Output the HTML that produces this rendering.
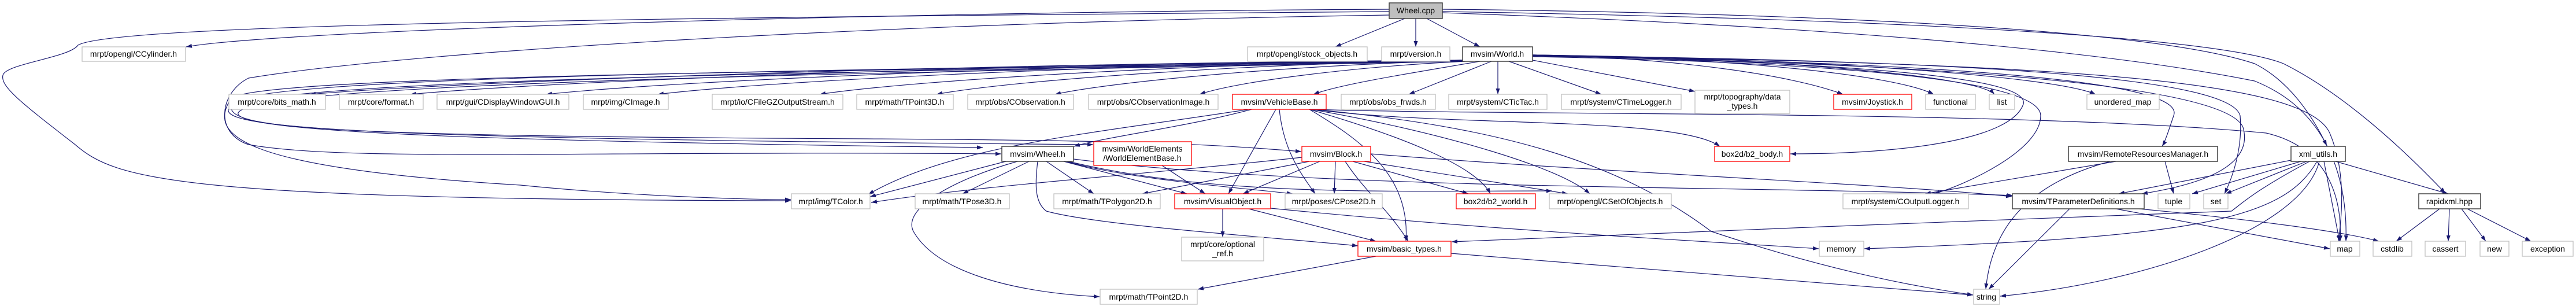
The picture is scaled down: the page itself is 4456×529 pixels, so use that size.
<!DOCTYPE html>
<html><head><meta charset="utf-8"><style>
html,body{margin:0;padding:0;background:#fff;}
svg{display:block;}
text{font-family:"Liberation Sans",sans-serif;font-size:14px;fill:#000;text-anchor:middle;}
.e{fill:none;stroke:#191970;stroke-width:1.2;marker-end:url(#a);}
.g{fill:#fff;stroke:#bfbfbf;stroke-width:1.3;}
.r{fill:#fff;stroke:#ff0000;stroke-width:1.3;}
.k{fill:#fff;stroke:#404040;stroke-width:1.5;}
</style></head><body>
<svg width="4456" height="529" viewBox="0 0 4456 529" xmlns="http://www.w3.org/2000/svg">
<defs><marker id="a" viewBox="0 0 10 7" refX="10" refY="3.5" markerWidth="10" markerHeight="7" markerUnits="userSpaceOnUse" orient="auto"><path d="M0,0 L10,3.5 L0,7 z" fill="#191970"/></marker></defs>
<g>
<!-- Wheel.cpp -->
<path class="e" d="M2430,32 L2310,81"/>
<path class="e" d="M2449,32 L2449,81"/>
<path class="e" d="M2468,32 L2560,81"/>
<path class="e" d="M2403,16 C1600,20 500,50 322,81"/>
<path class="e" d="M2403,20 C1200,30 200,40 135,78 C120,100 10,110 5,130 C0,150 40,180 130,250 C200,310 300,345 1368,347"/>
<path class="e" d="M2403,26 C1500,40 700,90 430,135 C380,160 370,230 430,250 C600,280 1000,260 1732,266"/>
<path class="e" d="M2495,16 C3300,25 3750,60 3900,110 C3960,140 4000,200 4025,252"/>
<path class="e" d="M2495,20 C3400,35 3850,70 3950,110 C4050,160 4150,250 4230,334"/>
<path class="e" d="M2495,22 C3300,50 3700,100 3900,140 C4050,200 4060,350 4058,417"/>
<!-- World.h -->
<path class="e" d="M2530,104 C1732,109 835,138 536,163"/>
<path class="e" d="M2530,104 C1802,109 983,138 710,163"/>
<path class="e" d="M2530,104 C1896,109 1183,138 945,163"/>
<path class="e" d="M2530,104 C1973,109 1347,138 1138,163"/>
<path class="e" d="M2530,104 C2085,109 1585,138 1418,163"/>
<path class="e" d="M2530,104 C2166,110 1756,138 1620,163"/>
<path class="e" d="M2530,105 C2248,112 1931,140 1825,163"/>
<path class="e" d="M2535,106 C2348,115 2143,140 2075,163"/>
<path class="e" d="M2560,106 C2450,125 2320,145 2272,163"/>
<path class="e" d="M2580,106 L2437,163"/>
<path class="e" d="M2591,106 L2591,163"/>
<path class="e" d="M2610,106 L2770,163"/>
<path class="e" d="M2651,104 L2932,158"/>
<path class="e" d="M2651,95 C2900,100 3100,130 3188,163"/>
<path class="e" d="M2651,95 C3000,100 3280,130 3345,163"/>
<path class="e" d="M2651,95 C3050,100 3420,130 3450,163"/>
<path class="e" d="M2651,95 C3100,100 3550,130 3625,163"/>
<path class="e" d="M2651,96 C3300,110 3510,140 3500,180 C3480,240 3300,266 3097,266"/>
<path class="e" d="M2651,96 C3500,110 3780,150 3760,200 C3750,230 3745,245 3740,253"/>
<path class="e" d="M2651,98 C3300,110 3530,150 3530,200 C3530,260 3400,320 3345,335"/>
<path class="e" d="M2651,97 C3400,110 3850,150 3880,220 C3900,290 3800,320 3705,335"/>
<path class="e" d="M2651,96 C3500,105 3860,140 3875,200 C3880,260 3860,310 3848,335"/>
<path class="e" d="M2651,96 C3600,110 3990,140 4030,230 C4060,300 4050,380 4045,417"/>
<path class="e" d="M2530,106 C1800,120 450,125 400,170 C360,230 400,290 900,320 C1100,340 1300,345 1368,345"/>
<path class="e" d="M2530,105 C1500,120 420,130 400,180 C390,220 500,235 1500,240 C2000,243 2100,250 2251,262"/>
<path class="e" d="M2530,105 C1500,125 420,135 395,190 C390,225 700,240 1891,250"/>
<path class="e" d="M2530,106 C1600,125 440,140 412,195 C400,230 900,245 1700,255"/>
<!-- VehicleBase -->
<path class="e" d="M2165,189 C2050,220 1920,235 1858,253"/>
<path class="e" d="M2160,189 C1900,230 1650,250 1502,336"/>
<path class="e" d="M2207,189 L2125,335"/>
<path class="e" d="M2213,189 C2220,260 2250,300 2275,335"/>
<path class="e" d="M2265,189 C2350,240 2440,300 2432,417"/>
<path class="e" d="M2265,189 C2440,240 2555,290 2578,335"/>
<path class="e" d="M2268,189 C2500,230 2700,290 2750,335"/>
<path class="e" d="M2270,189 C2500,220 2900,200 2975,253"/>
<path class="e" d="M2270,189 C2600,200 3500,190 3920,230 C4050,260 4050,380 4048,417"/>
<path class="e" d="M2270,189 C2600,220 2800,280 2960,400 C3200,480 3350,500 3413,510"/>
<!-- Wheel.h -->
<path class="e" d="M1740,279 L1505,340"/>
<path class="e" d="M1780,279 L1665,335"/>
<path class="e" d="M1810,279 L1892,335"/>
<path class="e" d="M1840,279 L2053,335"/>
<path class="e" d="M1845,279 C1950,310 2150,325 2236,335"/>
<path class="e" d="M1795,279 C1790,320 1790,350 1810,365 C1900,390 2200,410 2349,425"/>
<path class="e" d="M1760,279 C1650,310 1560,360 1580,400 C1620,470 1750,505 1902,513"/>
<path class="e" d="M1848,279 C2100,340 2400,330 2685,330"/>
<path class="e" d="M1857,275 C2300,330 3000,320 3482,338"/>
<!-- WorldElementBase -->
<path class="e" d="M2010,286 L2085,335"/>
<!-- Block -->
<path class="e" d="M2252,272 C2000,300 1700,320 1507,350"/>
<path class="e" d="M2265,279 L1976,335"/>
<path class="e" d="M2283,279 L2150,335"/>
<path class="e" d="M2310,279 L2308,335"/>
<path class="e" d="M2327,279 C2360,330 2400,360 2436,417"/>
<path class="e" d="M2340,279 L2540,335"/>
<path class="e" d="M2360,279 L2712,335"/>
<path class="e" d="M2371,266 C2800,300 3300,320 3480,340"/>
<!-- VisualObject -->
<path class="e" d="M2115,361 L2115,410"/>
<path class="e" d="M2160,361 L2380,417"/>
<path class="e" d="M2198,360 C2600,400 3000,420 3146,430"/>
<!-- basic_types -->
<path class="e" d="M2380,443 L2072,500"/>
<path class="e" d="M2510,438 C2900,470 3300,500 3413,510"/>
<!-- RemoteResourcesManager -->
<path class="e" d="M3660,279 L3330,335"/>
<path class="e" d="M3745,279 L3760,335"/>
<path class="e" d="M3650,279 C3500,320 3445,400 3435,500"/>
<!-- xml_utils -->
<path class="e" d="M3963,277 L3665,335"/>
<path class="e" d="M3980,279 L3792,335"/>
<path class="e" d="M3990,279 L3850,335"/>
<path class="e" d="M4020,279 L4047,417"/>
<path class="e" d="M4040,279 L4235,335"/>
<path class="e" d="M4008,279 C3950,380 3800,410 3225,430"/>
<path class="e" d="M3995,279 C3900,330 3880,350 3860,365 C3500,380 2900,400 2511,418"/>
<path class="e" d="M4012,279 C3980,400 3700,490 3460,512"/>
<!-- TParameterDefinitions -->
<path class="e" d="M3580,361 L3440,500"/>
<path class="e" d="M3660,361 L4030,430"/>
<path class="e" d="M3700,361 C3900,380 4050,400 4115,417"/>
<!-- rapidxml -->
<path class="e" d="M4220,361 L4145,417"/>
<path class="e" d="M4237,361 L4235,417"/>
<path class="e" d="M4258,361 L4300,417"/>
<path class="e" d="M4268,361 L4378,417"/>
</g>
<g>
<rect x="2403" y="5" width="92" height="27" fill="#bfbfbf" stroke="#404040" stroke-width="1.5"/><text x="2449" y="23">Wheel.cpp</text>
<rect class="g" x="142" y="81" width="179" height="25"/><text x="231" y="98">mrpt/opengl/CCylinder.h</text>
<rect class="g" x="2158" y="81" width="207" height="25"/><text x="2261" y="98">mrpt/opengl/stock_objects.h</text>
<rect class="g" x="2390" y="81" width="118" height="25"/><text x="2449" y="98">mrpt/version.h</text>
<rect class="k" x="2530" y="81" width="121" height="25"/><text x="2590" y="98">mvsim/World.h</text>

<rect class="g" x="396" y="163" width="167" height="26"/><text x="479" y="181">mrpt/core/bits_math.h</text>
<rect class="g" x="587" y="163" width="145" height="26"/><text x="659" y="181">mrpt/core/format.h</text>
<rect class="g" x="756" y="163" width="228" height="26"/><text x="870" y="181">mrpt/gui/CDisplayWindowGUI.h</text>
<rect class="g" x="1009" y="163" width="147" height="26"/><text x="1082" y="181">mrpt/img/CImage.h</text>
<rect class="g" x="1232" y="163" width="226" height="26"/><text x="1345" y="181">mrpt/io/CFileGZOutputStream.h</text>
<rect class="g" x="1482" y="163" width="167" height="26"/><text x="1565" y="181">mrpt/math/TPoint3D.h</text>
<rect class="g" x="1674" y="163" width="183" height="26"/><text x="1765" y="181">mrpt/obs/CObservation.h</text>
<rect class="g" x="1883" y="163" width="224" height="26"/><text x="1995" y="181">mrpt/obs/CObservationImage.h</text>
<rect class="r" x="2132" y="163" width="162" height="26"/><text x="2213" y="181">mvsim/VehicleBase.h</text>
<rect class="g" x="2320" y="163" width="163" height="26"/><text x="2401" y="181">mrpt/obs/obs_frwds.h</text>
<rect class="g" x="2506" y="163" width="170" height="26"/><text x="2591" y="181">mrpt/system/CTicTac.h</text>
<rect class="g" x="2701" y="163" width="207" height="26"/><text x="2804" y="181">mrpt/system/CTimeLogger.h</text>
<rect class="g" x="2932" y="156" width="164" height="40"/><text x="3014" y="172">mrpt/topography/data</text><text x="3014" y="188">_types.h</text>
<rect class="r" x="3172" y="163" width="135" height="26"/><text x="3239" y="181">mvsim/Joystick.h</text>
<rect class="g" x="3331" y="163" width="86" height="26"/><text x="3374" y="181">functional</text>
<rect class="g" x="3441" y="163" width="44" height="26"/><text x="3463" y="181">list</text>
<rect class="g" x="3610" y="163" width="125" height="26"/><text x="3672" y="181">unordered_map</text>

<rect class="k" x="1733" y="253" width="124" height="26"/><text x="1795" y="271">mvsim/Wheel.h</text>
<rect class="r" x="1892" y="245" width="169" height="41"/><text x="1976" y="262">mvsim/WorldElements</text><text x="1976" y="278">/WorldElementBase.h</text>
<rect class="r" x="2252" y="253" width="119" height="26"/><text x="2311" y="271">mvsim/Block.h</text>
<rect class="r" x="2966" y="253" width="130" height="26"/><text x="3031" y="271">box2d/b2_body.h</text>
<rect class="k" x="3578" y="253" width="258" height="26"/><text x="3707" y="271">mvsim/RemoteResourcesManager.h</text>
<rect class="k" x="3963" y="253" width="94" height="26"/><text x="4010" y="271">xml_utils.h</text>

<rect class="g" x="1369" y="335" width="136" height="26"/><text x="1437" y="353">mrpt/img/TColor.h</text>
<rect class="g" x="1583" y="335" width="163" height="26"/><text x="1664" y="353">mrpt/math/TPose3D.h</text>
<rect class="g" x="1823" y="335" width="184" height="26"/><text x="1915" y="353">mrpt/math/TPolygon2D.h</text>
<rect class="r" x="2032" y="335" width="166" height="26"/><text x="2115" y="353">mvsim/VisualObject.h</text>
<rect class="g" x="2223" y="335" width="168" height="26"/><text x="2307" y="353">mrpt/poses/CPose2D.h</text>
<rect class="r" x="2519" y="335" width="137" height="26"/><text x="2587" y="353">box2d/b2_world.h</text>
<rect class="g" x="2680" y="335" width="211" height="26"/><text x="2785" y="353">mrpt/opengl/CSetOfObjects.h</text>
<rect class="g" x="3188" y="335" width="217" height="26"/><text x="3296" y="353">mrpt/system/COutputLogger.h</text>
<rect class="k" x="3481" y="335" width="228" height="26"/><text x="3595" y="353">mvsim/TParameterDefinitions.h</text>
<rect class="g" x="3733" y="335" width="55" height="26"/><text x="3760" y="353">tuple</text>
<rect class="g" x="3812" y="335" width="42" height="26"/><text x="3833" y="353">set</text>
<rect class="k" x="4184" y="335" width="107" height="26"/><text x="4237" y="353">rapidxml.hpp</text>

<rect class="g" x="2044" y="410" width="142" height="41"/><text x="2115" y="427">mrpt/core/optional</text><text x="2115" y="443">_ref.h</text>
<rect class="r" x="2349" y="417" width="161" height="26"/><text x="2429" y="435">mvsim/basic_types.h</text>
<rect class="g" x="3147" y="417" width="77" height="26"/><text x="3185" y="435">memory</text>
<rect class="g" x="4031" y="417" width="51" height="26"/><text x="4056" y="435">map</text>
<rect class="g" x="4105" y="417" width="67" height="26"/><text x="4138" y="435">cstdlib</text>
<rect class="g" x="4195" y="417" width="70" height="26"/><text x="4230" y="435">cassert</text>
<rect class="g" x="4290" y="417" width="50" height="26"/><text x="4315" y="435">new</text>
<rect class="g" x="4363" y="417" width="88" height="26"/><text x="4407" y="435">exception</text>

<rect class="g" x="1903" y="500" width="168" height="26"/><text x="1987" y="518">mrpt/math/TPoint2D.h</text>
<rect class="g" x="3414" y="500" width="45" height="26"/><text x="3436" y="518">string</text>
</g>
</svg>
</body></html>
